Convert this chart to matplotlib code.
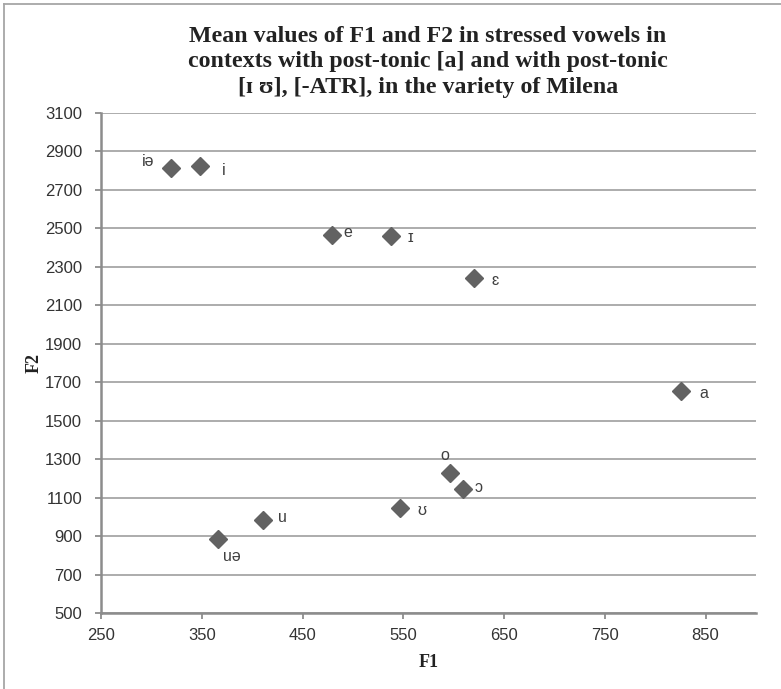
import matplotlib
matplotlib.use("Agg")
import matplotlib.pyplot as plt
from matplotlib.lines import Line2D

# -----------------------------
# DATA
# -----------------------------
vowels = ["iə", "i", "e", "ɪ", "ɛ", "a", "o", "ɔ", "ʊ", "u", "uə"]
f1 = [319, 348, 479, 538, 620, 826, 596, 609, 547, 411, 366]
f2 = [2816, 2824, 2466, 2462, 2240, 1654, 1230, 1143, 1044, 984, 885]

x_ticks = [250, 350, 450, 550, 650, 750, 850]
y_ticks = [500, 700, 900, 1100, 1300, 1500, 1700, 1900, 2100, 2300, 2500, 2700, 2900, 3100]

title = ("Mean values of F1 and F2 in stressed vowels in\n"
         "contexts with post-tonic [a] and with post-tonic\n"
         "[ɪ ʊ], [-ATR], in the variety of Milena")

# label offsets in pixels (dx, dy), dy positive = up
offsets = {
    "iə": (-22, 6), "i": (24, -4), "e": (16, 2), "ɪ": (19, -2), "ɛ": (21, -2),
    "a": (22, -2), "o": (-5, 17), "ɔ": (16, 2), "ʊ": (22, -2), "u": (19, 2),
    "uə": (14, -18),
}

# -----------------------------
# PLOT
# -----------------------------
W, H = 781, 689
fig = plt.figure(figsize=(W / 100, H / 100), dpi=100)
ax = fig.add_axes([101 / W, 1 - 613 / H, (756 - 101) / W, (613 - 113) / H])

grid_c = "#a6a6a6"
axis_c = "#8c8c8c"
sans = ["Liberation Sans", "DejaVu Sans"]
serif = ["Liberation Serif", "DejaVu Serif"]

ax.plot(f1, f2, linestyle="none", marker="D", markersize=9.5,
        color="#626262", zorder=3, clip_on=False)

for v, x, y in zip(vowels, f1, f2):
    dx, dy = offsets[v]
    ax.annotate(v, (x, y), xytext=(dx * 0.72, dy * 0.72), textcoords="offset points",
                ha="center", va="center", fontsize=11.5, color="#404040", family=sans)

ax.set_xlim(250, 900)
ax.set_ylim(500, 3100)
ax.set_xticks(x_ticks)
ax.set_yticks(y_ticks)
ax.yaxis.grid(True, color=grid_c, linewidth=1.3)
ax.set_axisbelow(True)

for side in ["top", "right"]:
    ax.spines[side].set_visible(False)
for side in ["left", "bottom"]:
    ax.spines[side].set_color(axis_c)
    ax.spines[side].set_linewidth(1.8)

ax.tick_params(axis="both", direction="out", length=4.5, width=1.3, color=axis_c,
               labelsize=12, labelcolor="#333333", pad=6)
ax.tick_params(axis="y", pad=9)
for lab in ax.get_xticklabels() + ax.get_yticklabels():
    lab.set_family(sans)

ax.set_xlabel("F1", fontsize=13, fontweight="bold", family=serif, color="#222222", labelpad=8)
ax.set_ylabel("F2", fontsize=13, fontweight="bold", family=serif, color="#222222", labelpad=2)

fig.text(428 / W, 1 - 62 / H, title, ha="center", va="center", fontsize=17.2,
         fontweight="bold", family=serif, color="#222222", linespacing=1.27)

# outer frame (only top and left edges are visible in the reference)
fig.add_artist(Line2D([4 / W, 1], [1 - 4 / H, 1 - 4 / H], transform=fig.transFigure,
                      color=grid_c, linewidth=1.3))
fig.add_artist(Line2D([4 / W, 4 / W], [0, 1 - 4 / H], transform=fig.transFigure,
                      color=grid_c, linewidth=1.3))

fig.savefig("out.png", dpi=100)
